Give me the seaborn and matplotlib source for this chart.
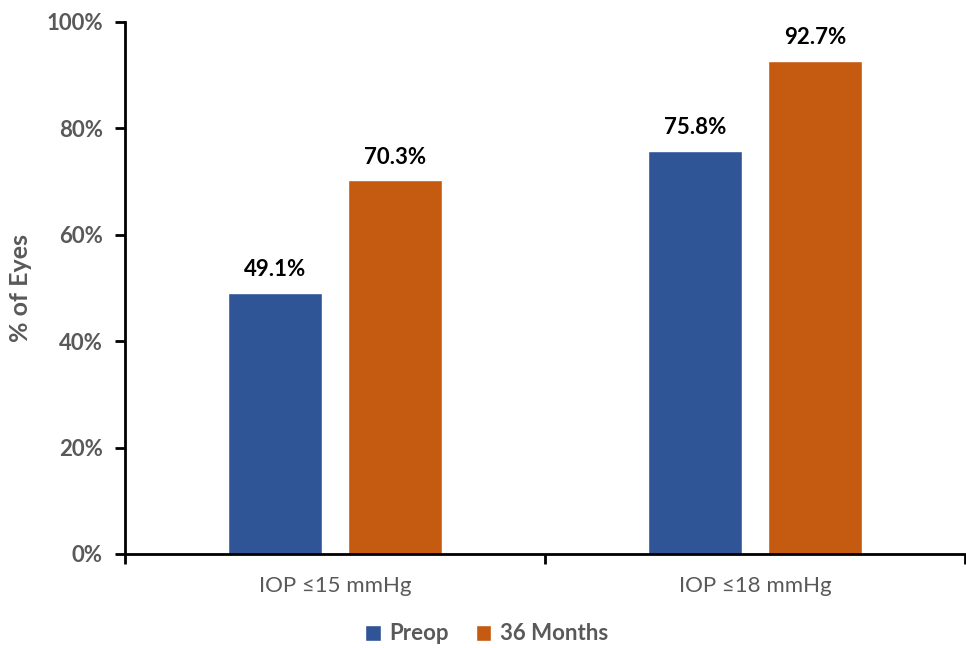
import matplotlib
matplotlib.use("Agg")
import matplotlib.pyplot as plt
import seaborn as sns
import pandas as pd
from matplotlib.ticker import FuncFormatter, FixedLocator
from matplotlib.patches import Patch

categories = ["IOP ≤15 mmHg", "IOP ≤18 mmHg"]
series = ["Preop", "36 Months"]
preop = [49.1, 75.8]
months36 = [70.3, 92.7]
colors = ["#2F5597", "#C55A11"]

df = pd.DataFrame({
    "cat": categories * 2,
    "series": [series[0]] * 2 + [series[1]] * 2,
    "val": preop + months36,
})

sns.set_style("white")
plt.rcParams["font.family"] = ["Lato", "DejaVu Sans"]

fig = plt.figure(figsize=(9.66, 6.48), dpi=100)
ax = fig.add_axes([125/966, 1-554/648, 840/966, (554-22)/648])

sns.barplot(data=df, x="cat", y="val", hue="series", palette=colors,
            width=0.571, gap=0.217, ax=ax, legend=False, saturation=1)

for cont in ax.containers:
    ax.bar_label(cont, labels=[f"{v:.1f}%" for v in cont.datavalues],
                 padding=9, fontsize=16, fontweight="bold", color="black")

ax.set_ylim(0, 100)
ax.set_xlim(-0.5, 1.5)
ax.set_yticks([0, 20, 40, 60, 80, 100])
ax.yaxis.set_major_formatter(FuncFormatter(lambda v, p: f"{int(v)}%"))
for lab in ax.get_yticklabels():
    lab.set_fontweight("bold")
ax.tick_params(axis="y", labelsize=16, labelcolor="#595959", length=7, width=2,
               color="black", direction="out", left=True, pad=9)
ax.tick_params(axis="x", which="major", labelsize=16, labelcolor="#595959", length=0, pad=16)
ax.xaxis.set_minor_locator(FixedLocator([-0.5, 0.5, 1.5]))
ax.tick_params(axis="x", which="minor", length=7, width=2, color="black", bottom=True)

for s in ["top", "right"]:
    ax.spines[s].set_visible(False)
for s in ["left", "bottom"]:
    ax.spines[s].set_color("black")
    ax.spines[s].set_linewidth(2)

ax.set_xlabel("")
ax.set_ylabel("% of Eyes", fontsize=18, fontweight="bold", color="#595959", labelpad=10)

handles = [Patch(facecolor=c, label=s) for c, s in zip(colors, series)]
leg = fig.legend(handles=handles, loc="center", bbox_to_anchor=(0.504, 1-634/648), ncol=2,
                 frameon=False, handlelength=0.7, handleheight=0.7, handletextpad=0.4,
                 columnspacing=1.2, prop={"size": 16, "weight": "bold"})
for t in leg.get_texts():
    t.set_color("#595959")

fig.savefig("out.png", dpi=100)
